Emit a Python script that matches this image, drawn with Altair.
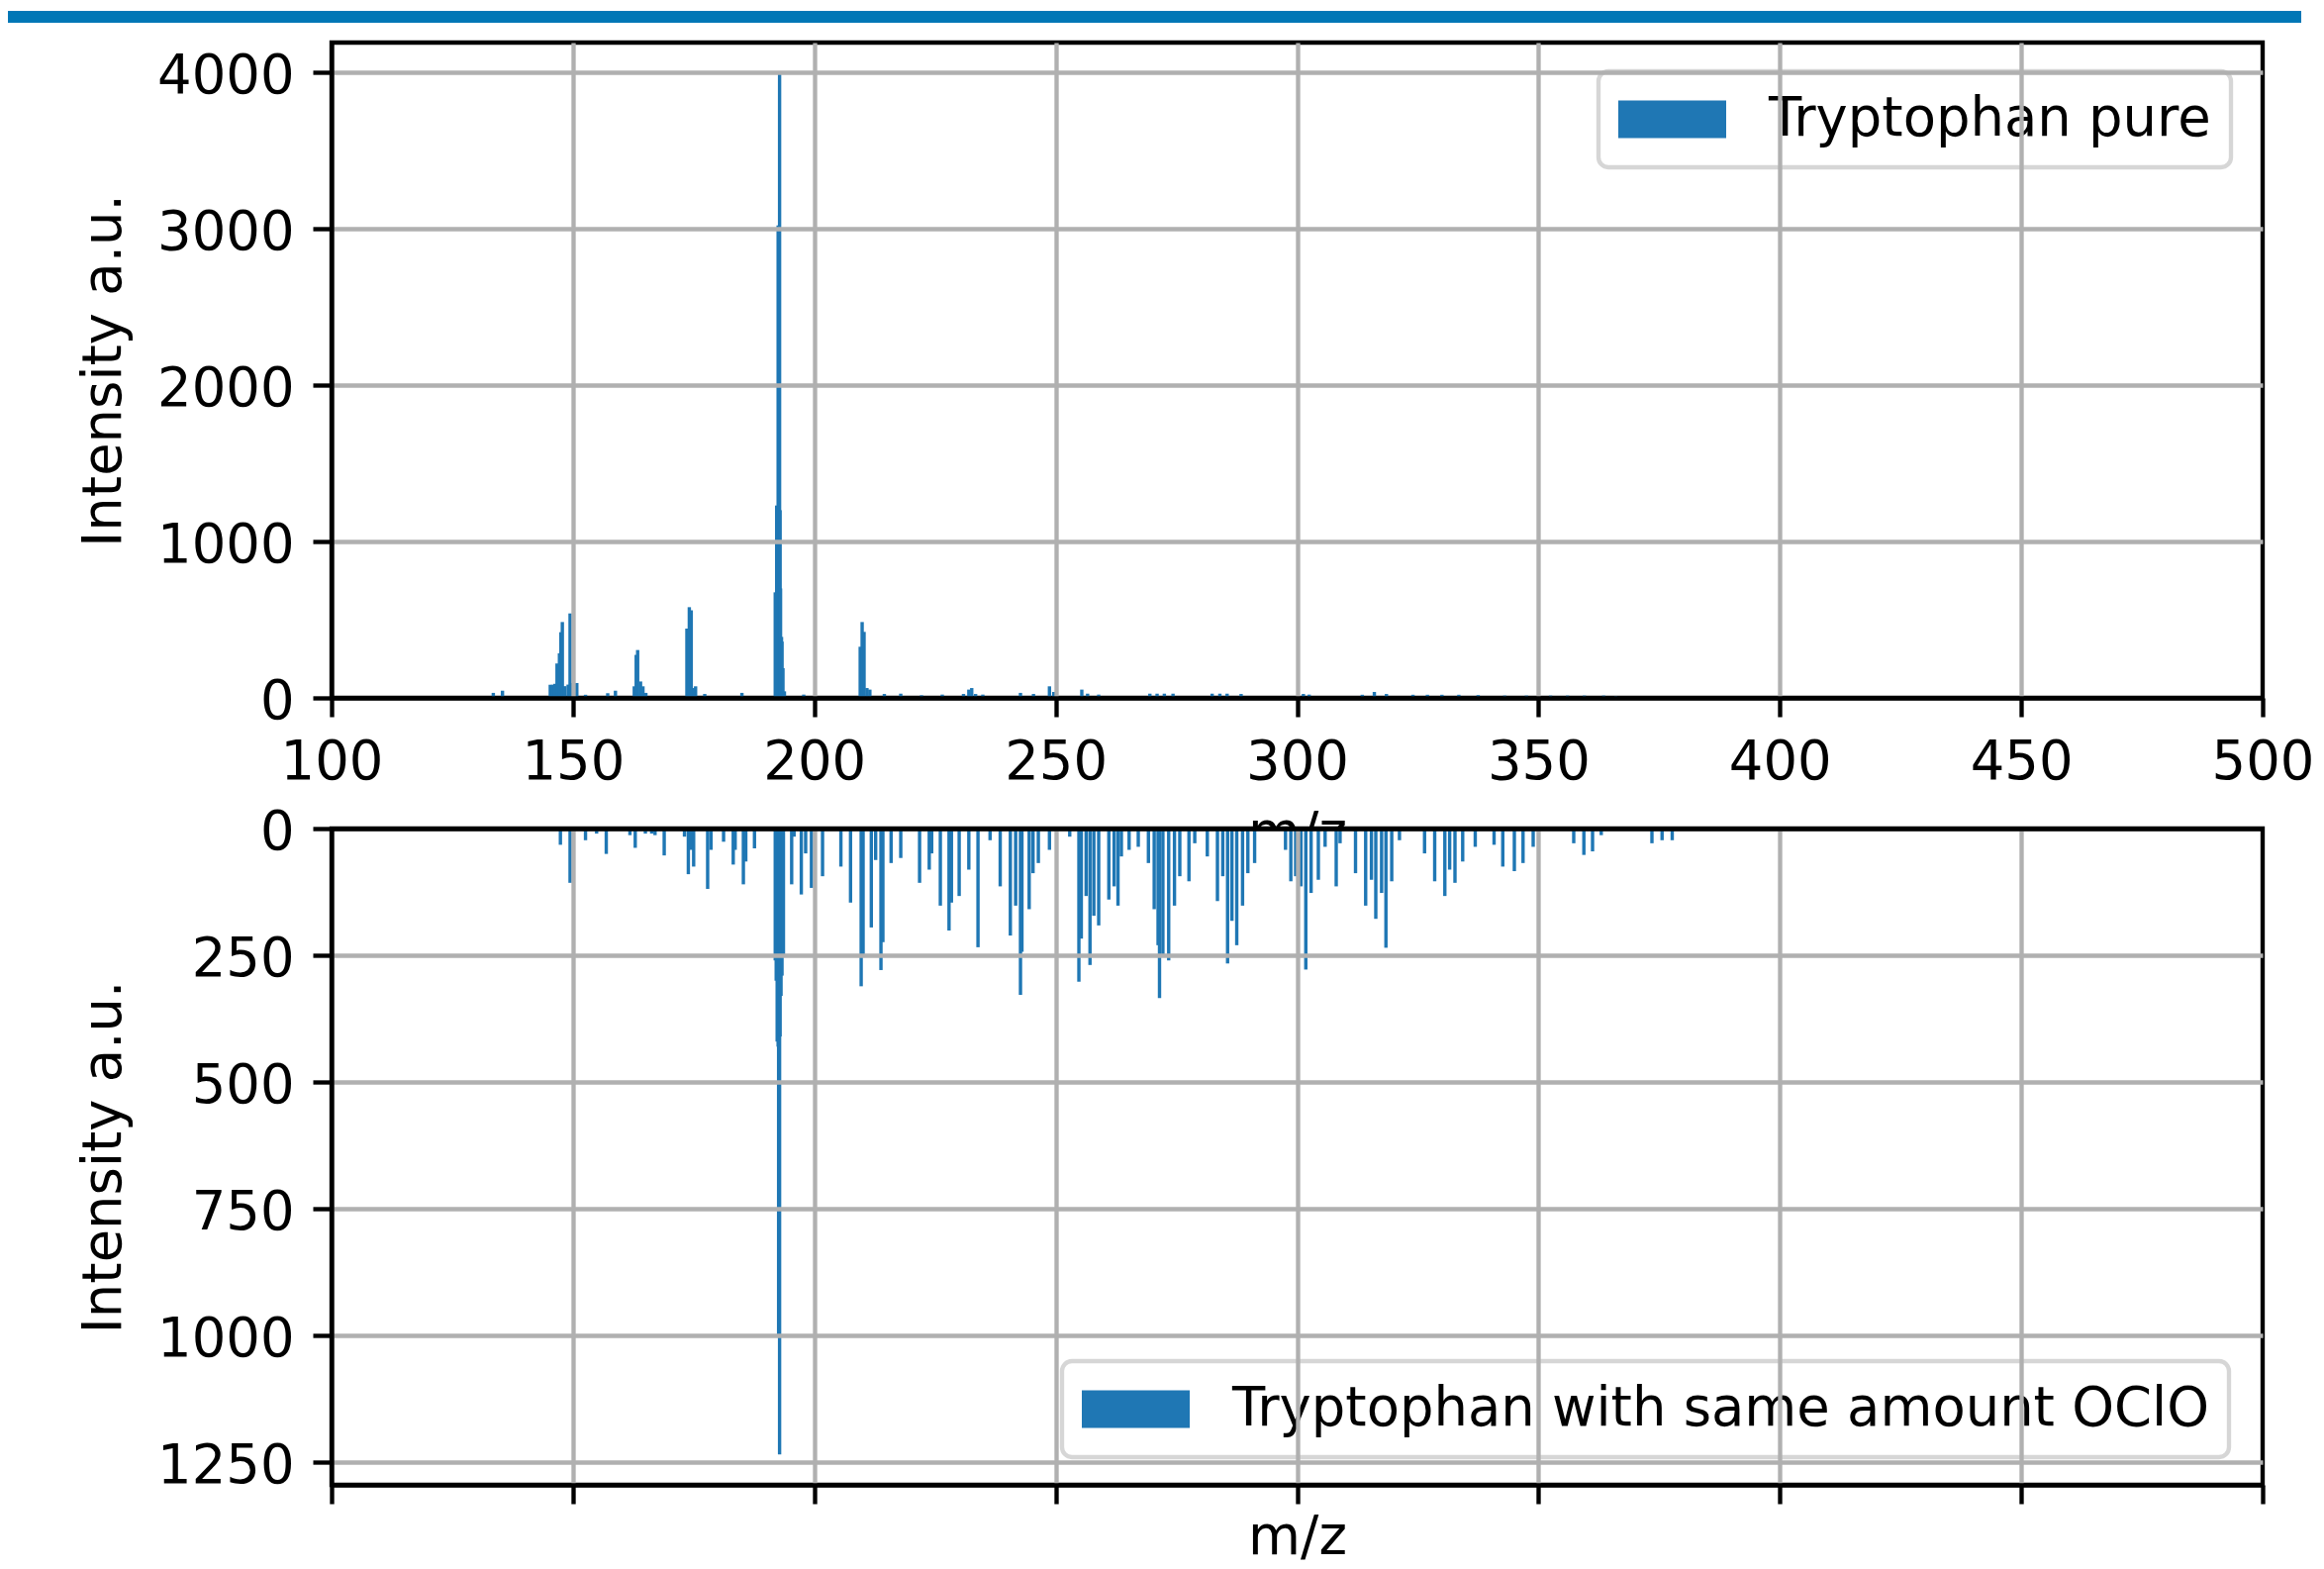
import altair as alt
import pandas as pd

# ---------------- data ----------------
top_mz = [133.5, 135.4, 145.3, 145.8, 146.25, 146.7, 147.2, 147.5, 147.8, 148.3, 149.0,
          149.4, 149.9, 150.3, 150.8, 152.6, 157.2, 158.8, 162.7, 163.1, 163.4, 164.0,
          164.5, 165.1, 173.6, 174.1, 174.5, 175.0, 175.4, 177.3, 185.0,
          191.9, 192.2, 192.5, 192.8, 192.9, 193.0, 193.2, 193.3, 193.5, 193.8,
          197.8, 209.5, 209.9, 210.3, 210.9, 211.5, 214.5, 217.9, 222.2, 226.5, 230.9,
          232.0, 232.6, 233.4, 234.9, 242.7, 245.4, 248.7, 249.6, 255.4, 256.6, 258.9,
          269.5, 271.0, 272.5, 274.3, 282.4, 284.0, 285.5, 288.4, 301.3, 302.5, 313.5,
          316.0, 318.5, 324.0, 327.0, 330.0, 333.5, 337.5, 343.0, 347.5, 352.5, 356.0,
          359.5, 363.5, 366.0]
top_int = [32, 46, 84, 84, 90, 220, 285, 420, 485, 75, 85,
           540, 95, 90, 95, 20, 30, 46, 74, 275, 306, 105,
           74, 32, 443, 580, 560, 63, 74, 25, 32,
           675, 1230, 3020, 3990, 1200, 700, 390, 360, 190, 42,
           21, 327, 485, 422, 63, 53, 25, 27, 17, 21, 25,
           53, 63, 25, 21, 32, 25, 74, 38, 53, 27, 21,
           27, 27, 27, 27, 27, 27, 27, 25, 25, 21, 20,
           38, 25, 20, 20, 20, 20, 18, 15, 15, 15, 15,
           15, 15, 12]

bot_mz = [147.4, 149.4, 152.6, 154.9, 156.9, 161.8, 162.9, 165.0, 166.3, 167.0, 168.9,
          173.1, 173.9, 174.5, 175.0, 177.9, 178.6, 181.2, 183.2, 183.6, 185.3, 185.8,
          187.6, 191.9, 192.1, 192.3, 192.5, 192.6, 192.8, 192.9, 193.1, 193.3, 193.6,
          195.3, 195.8, 197.3, 198.2, 199.4, 201.7, 205.5, 207.5, 209.7, 210.1, 211.8,
          212.7, 213.8, 214.2, 215.9, 217.9, 221.8, 223.8, 224.3, 226.1, 227.9, 228.4,
          230.0, 232.0, 233.9, 236.4, 238.5, 240.6, 241.7, 242.7, 243.0, 244.5, 245.3,
          246.4, 248.7, 252.9, 254.8, 255.3, 256.3, 257.1, 257.9, 258.9, 261.0, 262.1,
          262.9, 263.6, 265.2, 267.1, 269.2, 270.4, 271.2, 271.5, 272.2, 273.4, 274.6,
          275.7, 277.6, 278.8, 281.4, 283.5, 284.6, 285.6, 286.5, 287.5, 288.7, 289.8,
          291.2, 297.6, 298.7, 299.7, 300.8, 301.8, 302.9, 304.4, 305.8, 308.1, 308.9,
          312.1, 314.2, 315.4, 316.3, 317.5, 318.4, 319.6, 321.2, 326.4, 328.5, 330.6,
          331.6, 332.7, 334.3, 336.9, 340.8, 342.6, 345.0, 346.8, 348.9, 357.3, 359.4,
          361.2, 363.0, 373.5, 375.6, 377.7]
bot_int = [32, 107, 23, 10, 50, 13, 38, 10, 10, 13, 53,
           16, 90, 42, 75, 119, 42, 26, 71, 42, 110, 65,
           39, 260, 300, 420, 430, 1000, 1234, 410, 330, 290, 250,
           110, 16, 130, 49, 117, 94, 75, 146, 311, 250, 195,
           62, 279, 224, 68, 58, 107, 81, 49, 152, 201, 146,
           133, 81, 234, 23, 114, 211, 152, 328, 243, 159, 88,
           68, 42, 16, 302, 217, 133, 269, 172, 191, 140, 114,
           152, 55, 42, 36, 68, 159, 230, 334, 250, 260, 152,
           94, 104, 29, 55, 143, 94, 266, 182, 230, 152, 88,
           68, 42, 104, 94, 114, 278, 127, 101, 36, 114, 29,
           88, 152, 101, 178, 127, 235, 104, 23, 49, 104, 133,
           81, 107, 65, 36, 32, 75, 84, 68, 36, 29, 52,
           45, 13, 29, 23, 23]

top_label = "Tryptophan pure"
bot_label = "Tryptophan with same amount OClO"
x_ticks = [100, 150, 200, 250, 300, 350, 400, 450, 500]
top_y_ticks = [0, 1000, 2000, 3000, 4000]
bot_y_ticks = [0, 250, 500, 750, 1000, 1250]

# ---------------- styling ----------------
FS = 54.4
LW = 4.35
TL = 19
BLUE = "#1f77b4"
FONT = "DejaVu Sans"
W, H = 1951, 662

df_top = pd.DataFrame({"mz": top_mz, "intensity": top_int, "series": top_label})
df_bot = pd.DataFrame({"mz": bot_mz, "intensity": bot_int, "series": bot_label})

xscale = alt.Scale(domain=[100, 500], nice=False, zero=False, padding=0)
grid_x = alt.condition("datum.value == 100 || datum.value == 500",
                       alt.value("transparent"), alt.value("#b0b0b0"))
grid_y = alt.condition("datum.value == 0", alt.value("transparent"), alt.value("#b0b0b0"))

rect_shape = "M-1,-0.35H1V0.35H-1Z"


def legend(x, y):
    return alt.Legend(title=None, orient="none", legendX=x, legendY=y,
                      fillColor="rgba(255,255,255,0.8)", strokeColor="#d6d6d6",
                      cornerRadius=10, padding=20, symbolType=rect_shape,
                      symbolSize=11881, symbolStrokeWidth=0, symbolOpacity=1,
                      labelFont=FONT, labelFontSize=FS, labelColor="black",
                      labelOffset=43, labelLimit=3000, clipHeight=57)


band = alt.Chart(pd.DataFrame({"k": [0]})).mark_rect(color="#0077b6").encode(
    x=alt.value(-329), x2=alt.value(1990), y=alt.value(-32), y2=alt.value(-20))

bars_top = alt.Chart(df_top).mark_bar(size=3.4, orient="vertical").encode(
    x=alt.X("mz:Q", scale=xscale,
            axis=alt.Axis(values=x_ticks, format="d", title="m/z", titlePadding=19,
                          labelFlush=False, labelOverlap=False, gridColor=grid_x, zindex=1)),
    y=alt.Y("intensity:Q", stack=None,
            scale=alt.Scale(domain=[0, 4190], nice=False, zero=True),
            axis=alt.Axis(values=top_y_ticks, format="d", title="Intensity a.u.",
                          titlePadding=26, labelOffset=4, gridColor=grid_y, zindex=1)),
    color=alt.Color("series:N", scale=alt.Scale(domain=[top_label], range=[BLUE]),
                    legend=legend(1280, 29)),
)

top = alt.layer(band, bars_top).properties(width=W, height=H)

bars_bot = alt.Chart(df_bot).mark_bar(size=3.4, orient="vertical").encode(
    x=alt.X("mz:Q", scale=xscale,
            axis=alt.Axis(values=x_ticks, labels=False, title="m/z", titleY=26,
                          gridColor=grid_x, zindex=1)),
    y=alt.Y("intensity:Q", stack=None,
            scale=alt.Scale(domain=[0, 1294], nice=False, zero=True, reverse=True),
            axis=alt.Axis(values=bot_y_ticks, format="d", title="Intensity a.u.",
                          titlePadding=26, labelOffset=4, gridColor=grid_y, zindex=1)),
    color=alt.Color("series:N", scale=alt.Scale(domain=[bot_label], range=[BLUE]),
                    legend=legend(738, 538)),
)

top_spine = alt.Chart(df_bot).mark_point(opacity=0).encode(
    x=alt.X("mz:Q", scale=xscale,
            axis=alt.Axis(orient="top", domain=True, domainColor="black", domainWidth=LW,
                          ticks=False, labels=False, grid=False, title=None, zindex=2)))

bottom = alt.layer(bars_bot, top_spine).resolve_axis(x="independent").properties(
    width=W, height=H + 1)

chart = alt.vconcat(top, bottom, spacing=132, bounds="flush").resolve_scale(
    y="independent", color="independent").resolve_legend(color="independent").configure_view(
    stroke="black", strokeWidth=LW, fill="white").configure_axis(
    labelFont=FONT, labelFontSize=FS, labelColor="black",
    titleFont=FONT, titleFontSize=FS, titleFontWeight="normal", titleColor="black",
    tickColor="black", tickWidth=LW, tickSize=TL, labelPadding=TL,
    domainColor="black", domainWidth=LW, gridWidth=LW, gridOpacity=1).configure_legend(
    strokeWidth=LW).properties(padding={"left": -5, "top": 0, "right": -2, "bottom": 3},
                               background="white")

chart.save("out.html", embed_options={"renderer": "svg", "actions": False})
